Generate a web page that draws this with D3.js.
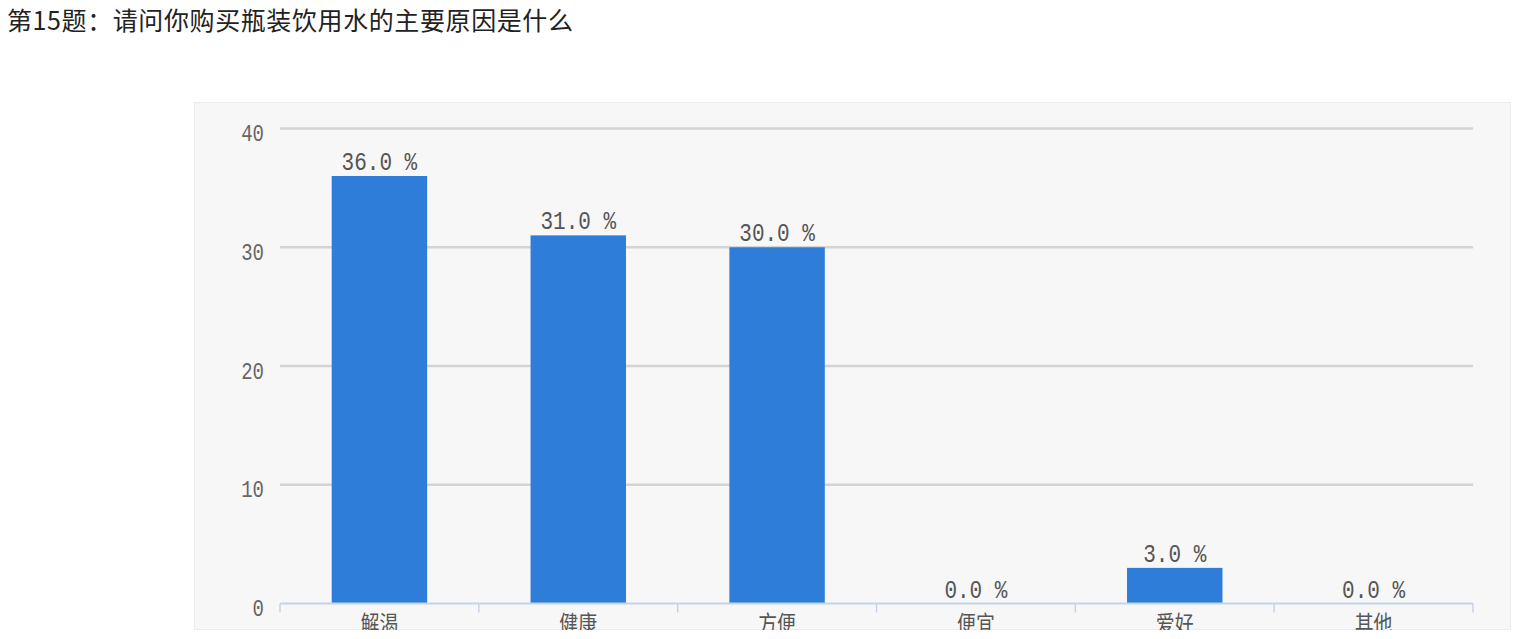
<!DOCTYPE html>
<html>
<head>
<meta charset="utf-8">
<style>
  body { margin: 0; background: #fff; }
  .title { font-family: "Noto Sans CJK SC", sans-serif; font-size: 25px; letter-spacing: 0.6px; fill: #222; }
  .ytick text { font-family: "Liberation Mono", monospace; font-size: 19px; fill: #666; }
  .value { font-family: "Liberation Mono", monospace; font-size: 21px; fill: #555; }
  .xlab { font-family: "Noto Sans CJK SC", sans-serif; font-size: 21px; fill: #555; }
</style>
<script src="https://d3js.org/d3.v7.min.js"></script>
</head>
<body>
<script>
var titleText = "第15题：请问你购买瓶装饮用水的主要原因是什么";
var categories = ["解渴", "健康", "方便", "便宜", "爱好", "其他"];
var percents = [36, 31, 30, 0, 3, 0];
var yTicks = [0, 10, 20, 30, 40];

var svg = d3.select("body").append("svg")
    .attr("width", 1513)
    .attr("height", 639);

svg.append("text")
    .attr("class", "title")
    .attr("x", 7)
    .attr("y", 30)
    .text(titleText);

// grey panel behind the chart
svg.append("defs").append("clipPath").attr("id", "panelClip")
    .append("rect").attr("x", 194).attr("y", 102).attr("width", 1317).attr("height", 528);

svg.append("rect")
    .attr("x", 194.5).attr("y", 102.5)
    .attr("width", 1316).attr("height", 527)
    .attr("fill", "#f7f7f7")
    .attr("stroke", "#ececec");

var chart = svg.append("g").attr("clip-path", "url(#panelClip)");

var x = d3.scaleBand().domain(categories).range([280, 1473]).paddingInner(0.52).paddingOuter(0.26);
var band = d3.scaleBand().domain(categories).range([280, 1473]);
var y = d3.scaleLinear().domain([0, 40]).range([603.5, 128.5]);

// gridlines
chart.selectAll(".grid")
    .data(yTicks.filter(function(d) { return d > 0; }))
    .enter().append("line")
    .attr("x1", 280).attr("x2", 1473)
    .attr("y1", function(d) { return y(d); })
    .attr("y2", function(d) { return y(d); })
    .attr("stroke", "#d4d4d4")
    .attr("stroke-width", 2.5);

// y labels (the original text looks stretched vertically)
var yAxis = d3.axisLeft(y).tickValues(yTicks).tickSize(0).tickPadding(0);
chart.append("g")
    .attr("class", "ytick")
    .attr("transform", "translate(264,0)")
    .call(yAxis)
    .call(function(g) { g.select(".domain").remove(); })
    .selectAll("text")
    .attr("dy", null)
    .attr("transform", "translate(0,12) scale(1,1.25)");

// bars
chart.selectAll(".bar")
    .data(percents)
    .enter().append("rect")
    .attr("x", function(d, i) { return x(categories[i]); })
    .attr("width", x.bandwidth())
    .attr("y", function(d) { return y(d); })
    .attr("height", function(d) { return y(0) - y(d); })
    .attr("fill", "#2e7dd8");

// value labels
chart.selectAll(".value")
    .data(percents)
    .enter().append("text")
    .attr("class", "value")
    .attr("text-anchor", "middle")
    .attr("transform", function(d, i) {
        return "translate(" + (x(categories[i]) + x.bandwidth() / 2) + "," + (y(d) - 6) + ") scale(1,1.25)";
    })
    .text(function(d) { return d.toFixed(1) + " %"; });

// x axis line and ticks
chart.append("line")
    .attr("x1", 280).attr("x2", 1473)
    .attr("y1", y(0)).attr("y2", y(0))
    .attr("stroke", "#c4d4e8").attr("stroke-width", 2);

var edges = categories.map(function(c) { return band(c); }).concat([1473]);
chart.selectAll(".xtick")
    .data(edges)
    .enter().append("line")
    .attr("x1", function(d) { return d; })
    .attr("x2", function(d) { return d; })
    .attr("y1", y(0)).attr("y2", y(0) + 9)
    .attr("stroke", "#c4d4e8").attr("stroke-width", 1.5);

chart.selectAll(".xlab")
    .data(categories)
    .enter().append("text")
    .attr("class", "xlab")
    .attr("text-anchor", "middle")
    .attr("transform", function(d) {
        return "translate(" + (band(d) + band.bandwidth() / 2) + ",632) scale(0.9,1.1)";
    })
    .text(function(d) { return d; });
</script>
</body>
</html>
